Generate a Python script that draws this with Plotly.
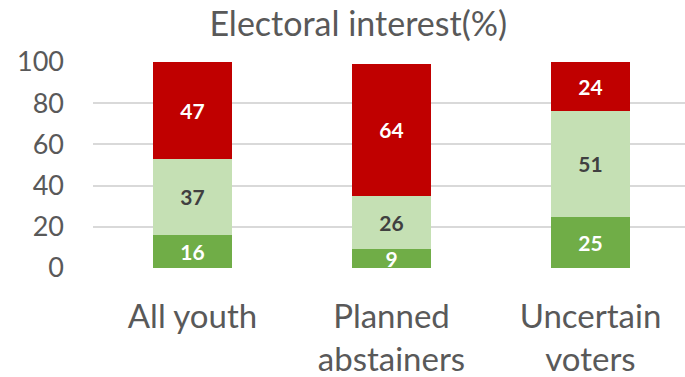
import plotly.graph_objects as go

categories = ["All youth", "Planned<br>abstainers", "Uncertain<br>voters"]
low_interest = [16, 9, 25]
medium_interest = [37, 26, 51]
high_interest = [47, 64, 24]
y_ticks = [0, 20, 40, 60, 80, 100]

FONT = "Lato, Open Sans, sans-serif"

series = [
    (low_interest, "#70AD47", "white"),
    (medium_interest, "#C5E0B4", "#404040"),
    (high_interest, "#C00000", "white"),
]

fig = go.Figure()
for vals, color, txtcolor in series:
    fig.add_trace(go.Bar(
        x=list(range(len(categories))), y=vals,
        marker=dict(color=color, line=dict(width=0)),
        width=0.4,
        text=[f"<b>{v}</b>" for v in vals],
        textposition="inside", insidetextanchor="middle",
        textangle=0,
        textfont=dict(family=FONT, size=21, color=txtcolor),
        constraintext="none",
        showlegend=False,
    ))

fig.update_layout(
    barmode="stack",
    width=685, height=377,
    margin=dict(l=93, r=0, t=62, b=109),
    paper_bgcolor="white", plot_bgcolor="white",
    font=dict(family=FONT, color="#595959"),
    title=dict(text="Electoral interest(%)", x=0.523, xanchor="center",
               y=0.936, yanchor="middle",
               font=dict(family=FONT, size=34, color="#595959")),
    xaxis=dict(
        tickmode="array", tickvals=list(range(len(categories))),
        ticktext=categories, range=[-0.5, 2.475],
        showgrid=False, zeroline=False, showline=False,
        tickfont=dict(family=FONT, size=33, color="#595959"),
        ticks="", ticklabelstandoff=26,
    ),
    yaxis=dict(
        range=[0, 100], tickvals=y_ticks,
        showgrid=True, gridcolor="#D9D9D9", gridwidth=1.5,
        zeroline=False, showline=False,
        tickfont=dict(family=FONT, size=27, color="#595959"),
        ticks="", ticklabelstandoff=28,
    ),
    bargap=0.6,
)

fig.write_html("out.html")
